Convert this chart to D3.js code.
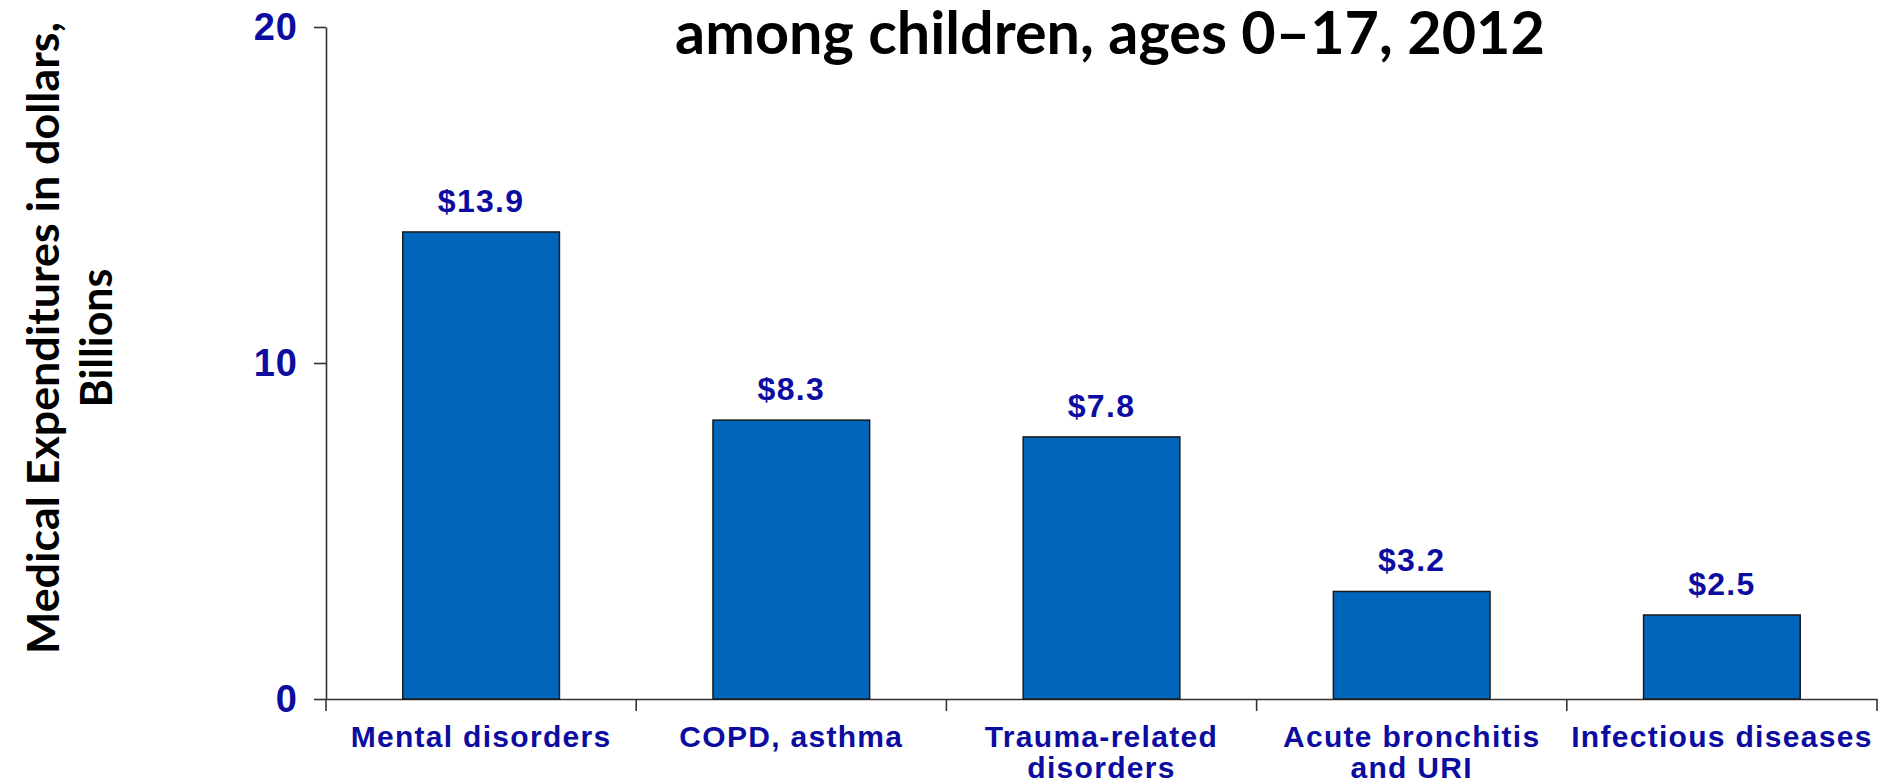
<!DOCTYPE html>
<html>
<head>
<meta charset="utf-8"/>
<script src="https://d3js.org/d3.v7.min.js"></script>
<style type="text/css">
body { margin: 0; background: #fff; }
.bar {
  fill: #0066bb;
  stroke: #1a1a1a;
  stroke-width: 1.5px;
}
.axis path, .axis line {
  stroke: #333;
  stroke-width: 1.6px;
}
.blue {
  fill: #0c0ca0;
  font-family: "Liberation Sans", Arial, sans-serif;
  font-weight: bold;
}
.dark {
  fill: #000;
  font-family: Lato, "Open Sans", sans-serif;
  font-weight: bold;
}
</style>
</head>
<body>
<script>

var width = 1878, height = 784;

// data
var categories = ["Mental disorders", "COPD, asthma", "Trauma-related disorders",
                  "Acute bronchitis and URI", "Infectious diseases"];
var labelLines = [["Mental disorders"], ["COPD, asthma"], ["Trauma-related", "disorders"],
                  ["Acute bronchitis", "and URI"], ["Infectious diseases"]];
var spending = [13.9, 8.3, 7.8, 3.2, 2.5];
var yTicks = [0, 10, 20];

var titleText = "among children, ages 0\u201317, 2012";
var yTitle = ["Medical Expenditures in dollars,", "Billions"];

var svg = d3.select("body").append("svg")
    .attr("width", width)
    .attr("height", height);

var x = d3.scaleBand()
    .domain(categories)
    .range([326, 1877])
    .padding(0);

var y = d3.scaleLinear()
    .domain([0, 20])
    .range([699, 27]);

var barW = x.bandwidth() * 0.505;

// fit text to a measured length by changing font size
function fitText(sel, target) {
  var size = parseFloat(sel.attr("font-size"));
  var w = sel.node().getComputedTextLength();
  sel.attr("font-size", size * target / w);
}

// y axis
var yAxis = svg.append("g")
    .attr("class", "axis")
    .attr("transform", "translate(326,0)")
    .call(d3.axisLeft(y).tickValues(yTicks).tickSize(12).tickSizeOuter(0).tickPadding(16));
yAxis.selectAll("text")
    .attr("class", "blue")
    .attr("font-size", 38)
    .attr("letter-spacing", "1px")
    .attr("fill", null);

// x axis line + boundary ticks
var xAxis = svg.append("g")
    .attr("class", "axis")
    .attr("transform", "translate(0," + y(0) + ")")
    .call(d3.axisBottom(x).tickSize(0).tickSizeOuter(0).tickFormat(""));

var bounds = categories.map(function(c) { return x(c); }).concat([x.range()[1]]);
xAxis.selectAll(".bound")
    .data(bounds)
    .enter().append("line")
    .attr("x1", function(d) { return d; })
    .attr("x2", function(d) { return d; })
    .attr("y1", 0)
    .attr("y2", 12);

// bars
svg.selectAll(".bar")
    .data(spending)
    .enter().append("rect")
    .attr("class", "bar")
    .attr("x", function(d, i) { return x(categories[i]) + (x.bandwidth() - barW) / 2; })
    .attr("width", barW)
    .attr("y", function(d) { return y(d); })
    .attr("height", function(d) { return y(0) - y(d); });

// value labels
svg.selectAll(".val")
    .data(spending)
    .enter().append("text")
    .attr("class", "blue")
    .attr("font-size", 32)
    .attr("letter-spacing", "1.3px")
    .attr("text-anchor", "middle")
    .attr("x", function(d, i) { return x(categories[i]) + x.bandwidth() / 2; })
    .attr("y", function(d) { return y(d) - 20; })
    .text(function(d) { return "$" + d.toFixed(1); });

// category labels
var cat = svg.selectAll(".cat")
    .data(labelLines)
    .enter().append("text")
    .attr("class", "blue")
    .attr("font-size", 30)
    .attr("letter-spacing", "1.3px")
    .attr("text-anchor", "middle");
cat.each(function(lines, i) {
  var t = d3.select(this);
  lines.forEach(function(l, j) {
    t.append("tspan")
      .attr("x", x(categories[i]) + x.bandwidth() / 2)
      .attr("y", 747 + j * 31)
      .text(l);
  });
});

// title (second line of a cut-off title)
var title = svg.append("text")
    .attr("class", "dark")
    .attr("font-size", 44)
    .attr("text-anchor", "middle")
    .attr("x", 1110)
    .attr("y", 54)
    .text(titleText);
fitText(title, 870);

// y axis title
var yt = svg.append("g")
    .attr("transform", "translate(0,338) rotate(-90)");
var yLens = [632, 139];
var yBase = [59, 112];
yTitle.forEach(function(s, i) {
  var t = yt.append("text")
      .attr("class", "dark")
      .attr("font-size", 44)
      .attr("text-anchor", "middle")
      .attr("x", 0)
      .attr("y", yBase[i])
      .text(s);
  fitText(t, yLens[i]);
});

</script>
</body>
</html>
